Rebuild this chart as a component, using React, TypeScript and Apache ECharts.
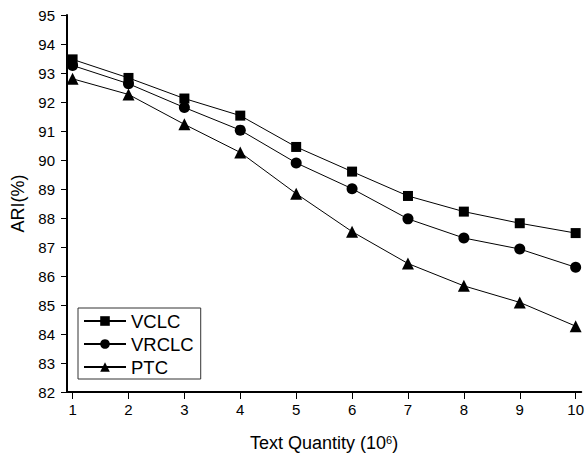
import React, { useEffect, useRef } from "react";
import * as echarts from "echarts";

const xValues = [1, 2, 3, 4, 5, 6, 7, 8, 9, 10];
const vclc = [93.47, 92.83, 92.12, 91.53, 90.45, 89.6, 88.76, 88.22, 87.82, 87.48];
const vrclc = [93.26, 92.63, 91.81, 91.03, 89.9, 89.01, 87.97, 87.31, 86.93, 86.3];
const ptc = [92.8, 92.26, 91.23, 90.26, 88.84, 87.53, 86.43, 85.66, 85.09, 84.27];
const yTicks = [82, 83, 84, 85, 86, 87, 88, 89, 90, 91, 92, 93, 94, 95];

const FONT = "Liberation Sans, Arial, sans-serif";

export default function App() {
  const ref = useRef<HTMLDivElement>(null);
  useEffect(() => {
    if (!ref.current) return;
    const chart = echarts.init(ref.current, undefined, { renderer: "svg" });
    const mk = (name: string, data: number[], symbol: string, size: number) => ({
      name,
      type: "line",
      data: xValues.map((x, i) => [x, data[i]]),
      symbol,
      symbolSize: size,
      showAllSymbol: true,
      lineStyle: { color: "#000", width: 1 },
      itemStyle: { color: "#000" },
    });
    chart.setOption({
      animation: false,
      backgroundColor: "#fff",
      textStyle: { fontFamily: FONT },
      grid: { left: 67, right: 5, top: 15, bottom: 62, containLabel: false },
      legend: {
        orient: "vertical",
        left: 78,
        top: 308,
        padding: [3, 7, 2, 5],
        itemGap: 3,
        itemWidth: 42,
        itemHeight: 12,
        borderColor: "#333",
        borderWidth: 1,
        textStyle: { fontSize: 18.5, color: "#000", fontFamily: FONT, lineHeight: 20 },
        data: ["VCLC", "VRCLC", "PTC"],
      },
      xAxis: {
        type: "value",
        min: 0.9,
        max: 10.1,
        name: "Text Quantity (10{sup|6})",
        nameLocation: "middle",
        nameGap: 42,
        nameTextStyle: {
          fontSize: 18,
          color: "#000",
          fontFamily: FONT,
          rich: { sup: { fontSize: 11, verticalAlign: "top", color: "#000", fontFamily: FONT } },
        },
        axisLine: { show: true, onZero: false, lineStyle: { color: "#000", width: 2 } },
        axisTick: { show: true, inside: false, length: 7, customValues: xValues, lineStyle: { color: "#000", width: 1 } },
        axisLabel: { customValues: xValues, fontSize: 15, color: "#000", margin: 10, fontFamily: FONT },
        splitLine: { show: false },
      },
      yAxis: {
        type: "value",
        min: 82,
        max: 95,
        interval: 1,
        name: "ARI(%)",
        nameLocation: "middle",
        nameGap: 40,
        nameTextStyle: { fontSize: 18, color: "#000", fontFamily: FONT },
        axisLine: { show: true, onZero: false, lineStyle: { color: "#000", width: 2 } },
        axisTick: { show: true, inside: false, length: 6, lineStyle: { color: "#000", width: 1 } },
        axisLabel: { fontSize: 15, color: "#000", margin: 12, fontFamily: FONT, customValues: yTicks },
        splitLine: { show: false },
      },
      series: [
        mk("VCLC", vclc, "rect", 10),
        mk("VRCLC", vrclc, "circle", 11),
        mk("PTC", ptc, "triangle", 12),
      ],
    });
    return () => chart.dispose();
  }, []);
  return (
    <div
      ref={ref}
      style={{ position: "fixed", left: 0, top: 0, width: 587, height: 457 }}
    />
  );
}
